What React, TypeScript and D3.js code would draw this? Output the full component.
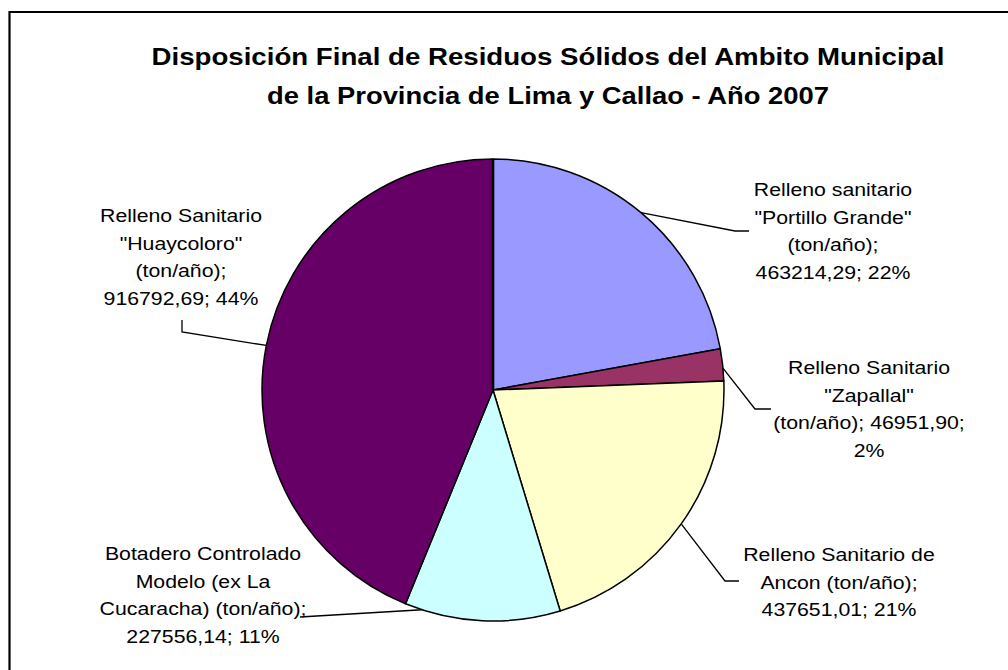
import React from "react";
import * as d3 from "d3";

const categories = [
  "Relleno sanitario \"Portillo Grande\" (ton/año)",
  "Relleno Sanitario \"Zapallal\" (ton/año)",
  "Relleno Sanitario de Ancon (ton/año)",
  "Botadero Controlado Modelo (ex La Cucaracha) (ton/año)",
  "Relleno Sanitario \"Huaycoloro\" (ton/año)",
];
const values = [463214.29, 46951.9, 437651.01, 227556.14, 916792.69];
const colors = ["#9999FF", "#993366", "#FFFFCC", "#CCFFFF", "#660066"];
const labelLines = [
  ["Relleno sanitario", "\"Portillo Grande\"", "(ton/año);", "463214,29; 22%"],
  ["Relleno Sanitario", "\"Zapallal\"", "(ton/año); 46951,90;", "2%"],
  ["Relleno Sanitario de", "Ancon (ton/año);", "437651,01; 21%"],
  ["Botadero Controlado", "Modelo (ex La", "Cucaracha) (ton/año);", "227556,14; 11%"],
  ["Relleno Sanitario", "\"Huaycoloro\"", "(ton/año);", "916792,69; 44%"],
];
const titleLines = [
  "Disposición Final de Residuos Sólidos del Ambito Municipal",
  "de la Provincia de Lima y Callao - Año 2007",
];

// layout
const W = 1008, H = 670;
const cx = 493, cy = 390, R = 231;
const labelLayout = [
  { x: 833, y: 196, anchorFrac: 0.5, path: [[735, 231], [749, 231]] },
  { x: 869, y: 374, anchorFrac: 0.6, path: [[755, 409], [771, 409]] },
  { x: 839, y: 561, anchorFrac: 0.5, path: [[725, 581], [739, 581]] },
  { x: 203, y: 560, anchorFrac: 0.89, path: [[300, 617]] },
  { x: 181, y: 222, anchorFrac: 0.5, path: [[182, 332], [182, 320]] },
];
const lineH = 27.6;
const labelFont = 18.5;
const labelScaleX = 1.15;

export default function App() {
  const pie = d3.pie<number>().sort(null).value((d) => d).startAngle(0).endAngle(2 * Math.PI);
  const arcs = pie(values);
  const arc = d3.arc<d3.PieArcDatum<number>>().innerRadius(0).outerRadius(R);
  const font = "'Liberation Sans', Arial, sans-serif";
  const a0 = arcs[0].startAngle;
  return (
    <svg width={W} height={H} style={{ position: "absolute", left: 0, top: 0, background: "#fff", overflow: "hidden" }}>
      <rect x={0} y={0} width={W} height={H} fill="#fff" />
      <path d={`M9.5,${H + 20} V12 H${W + 20}`} fill="none" stroke="#000" strokeWidth={2.2} />
      {titleLines.map((t, i) => (
        <text key={i} x={548} y={65 + i * 39} textAnchor="middle" fontFamily={font} fontWeight="bold" fontSize={23.5}
          textLength={i === 0 ? 793 : 562} lengthAdjust="spacingAndGlyphs">{t}</text>
      ))}
      <g transform={`translate(${cx},${cy})`}>
        {arcs.map((a, i) => (
          <path key={i} d={arc(a) || ""} fill={colors[i]} stroke="#000" strokeWidth={1.5} strokeLinejoin="round">
            <title>{categories[i]}</title>
          </path>
        ))}
        <line x1={0} y1={0} x2={R * Math.sin(a0)} y2={-R * Math.cos(a0)} stroke="#000" strokeWidth={2.6} />
      </g>
      {arcs.map((a, i) => {
        const L = labelLayout[i];
        const ang = a.startAngle + (a.endAngle - a.startAngle) * L.anchorFrac;
        const sx = cx + R * Math.sin(ang);
        const sy = cy - R * Math.cos(ang);
        const pts: [number, number][] = [[sx, sy], ...(L.path as [number, number][])];
        return (
          <path key={"l" + i} d={d3.line()(pts) || ""} fill="none" stroke="#000" strokeWidth={1.3} />
        );
      })}
      {labelLines.map((lines, i) => (
        <g key={"t" + i}>
          {lines.map((s, j) => (
            <text key={j} transform={`translate(${labelLayout[i].x},${labelLayout[i].y + j * lineH}) scale(${labelScaleX},1)`}
              textAnchor="middle" fontFamily={font} fontSize={labelFont} fill="#000">{s}</text>
          ))}
        </g>
      ))}
    </svg>
  );
}
